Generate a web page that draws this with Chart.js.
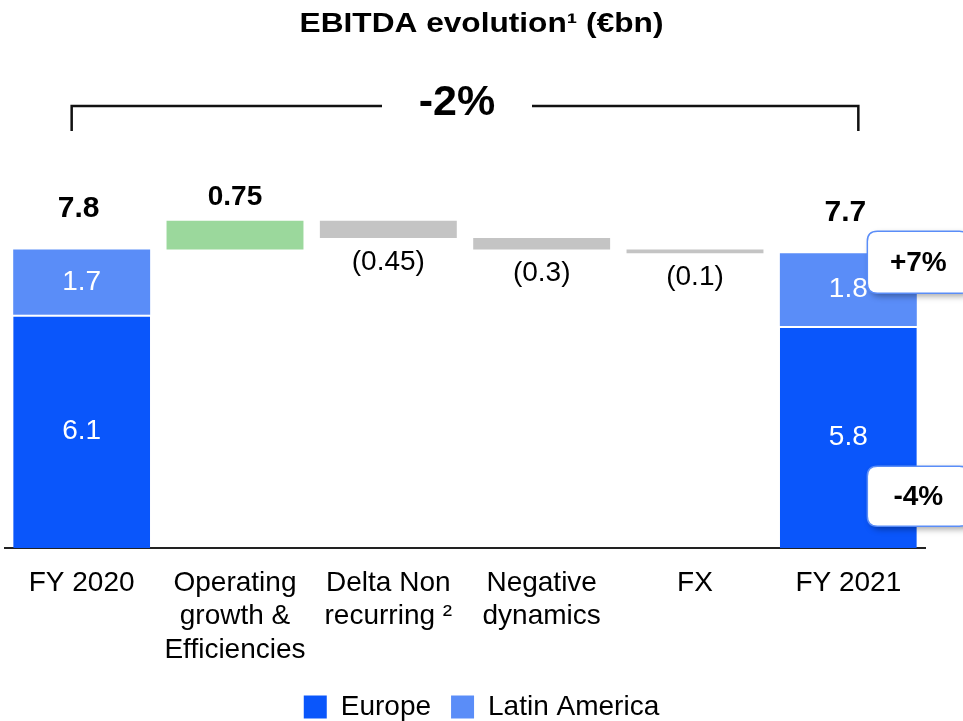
<!DOCTYPE html>
<html>
<head>
<meta charset="utf-8">
<script src="https://cdn.jsdelivr.net/npm/chart.js@4.4.0/dist/chart.umd.min.js"></script>
<style>
  html, body { margin: 0; padding: 0; background: #fff; }
</style>
</head>
<body>
<canvas id="chart" width="963" height="721"></canvas>
<script>
const FONT = "'Liberation Sans', Arial, sans-serif";

const titleText = 'EBITDA evolution¹ (€bn)';
const categories = [['FY 2020'], ['Operating', 'growth &', 'Efficiencies'], ['Delta Non', 'recurring ²'], ['Negative', 'dynamics'], ['FX'], ['FY 2021']];
const europe = [6.1, null, null, null, null, 5.8];
const latinAmerica = [1.7, null, null, null, null, 1.8];
const totals = [7.8, null, null, null, null, 7.7];
const bridgeDeltas = [0.75, -0.45, -0.3, -0.1];
const europeChange = '-4%';
const latamChange = '+7%';
const overallChange = '-2%';

const BLUE = '#0a56fb';
const LIGHT_BLUE = '#5a8df8';
const GREEN = '#9bd89c';
const GRAY = '#c4c4c4';

// waterfall steps between the two totals
let running = totals[0];
const bridge = [null];
const bridgeColors = [null];
bridgeDeltas.forEach(d => {
    const next = Math.round((running + d) * 100) / 100;
    bridge.push([running, next]);
    bridgeColors.push(d > 0 ? GREEN : GRAY);
    running = next;
});
bridge.push(null);
bridgeColors.push(null);

const latamBars = latinAmerica.map((v, i) => v == null ? null : [europe[i], totals[i]]);

function roundRect(ctx, x, y, w, h, r) {
    ctx.beginPath();
    ctx.moveTo(x + r, y);
    ctx.lineTo(x + w - r, y);
    ctx.quadraticCurveTo(x + w, y, x + w, y + r);
    ctx.lineTo(x + w, y + h - r);
    ctx.quadraticCurveTo(x + w, y + h, x + w - r, y + h);
    ctx.lineTo(x + r, y + h);
    ctx.quadraticCurveTo(x, y + h, x, y + h - r);
    ctx.lineTo(x, y + r);
    ctx.quadraticCurveTo(x, y, x + r, y);
    ctx.closePath();
}

function drawBadge(ctx, x, y, w, h, text) {
    ctx.save();
    roundRect(ctx, x, y, w, h, 10);
    ctx.shadowColor = 'rgba(0,0,0,0.35)';
    ctx.shadowBlur = 6;
    ctx.shadowOffsetX = 3;
    ctx.shadowOffsetY = 3;
    ctx.fillStyle = '#fff';
    ctx.fill();
    ctx.shadowColor = 'transparent';
    ctx.lineWidth = 1.5;
    ctx.strokeStyle = LIGHT_BLUE;
    ctx.stroke();
    ctx.fillStyle = '#000';
    ctx.font = 'bold 28px ' + FONT;
    ctx.textAlign = 'center';
    ctx.textBaseline = 'middle';
    ctx.fillText(text, x + w / 2, y + h / 2 + 1);
    ctx.restore();
}

const annotations = {
    id: 'annotations',
    afterDraw(chart) {
        const ctx = chart.ctx;
        const area = chart.chartArea;
        const eu = chart.getDatasetMeta(0).data;
        const la = chart.getDatasetMeta(1).data;
        const br = chart.getDatasetMeta(2).data;
        const last = categories.length - 1;

        ctx.save();
        ctx.fillStyle = '#000';
        ctx.textAlign = 'center';

        // title (the original is set a bit wide)
        ctx.save();
        ctx.translate(chart.width / 2, 32);
        ctx.scale(1.13, 1);
        ctx.font = 'bold 28px ' + FONT;
        ctx.textBaseline = 'alphabetic';
        ctx.fillText(titleText, 0, 0);
        ctx.restore();

        // bracket with overall change
        const bx1 = eu[0].x - 10;
        const bx2 = eu[last].x + 10;
        const by = area.top + 46;
        const gx = (bx1 + bx2) / 2 - 8;
        ctx.strokeStyle = '#111';
        ctx.lineWidth = 2.5;
        ctx.beginPath();
        ctx.moveTo(bx1, by + 25);
        ctx.lineTo(bx1, by);
        ctx.lineTo(gx - 75, by);
        ctx.moveTo(gx + 75, by);
        ctx.lineTo(bx2, by);
        ctx.lineTo(bx2, by + 25);
        ctx.stroke();
        ctx.font = 'bold 43px ' + FONT;
        ctx.textBaseline = 'alphabetic';
        ctx.fillText(overallChange, gx, area.top + 55);

        ctx.textBaseline = 'middle';
        // totals and regional splits
        totals.forEach((t, i) => {
            if (t == null) return;
            ctx.font = 'bold 30px ' + FONT;
            ctx.fillStyle = '#000';
            ctx.fillText(t.toFixed(1), la[i].x - 3, Math.min(la[i].y, la[i].base) - 41);
            ctx.font = '28px ' + FONT;
            ctx.fillStyle = '#fff';
            ctx.fillText(latinAmerica[i].toFixed(1), la[i].x, (la[i].y + la[i].base) / 2);
            ctx.fillText(europe[i].toFixed(1), eu[i].x, (eu[i].y + eu[i].base) / 2);
        });

        // waterfall step labels
        ctx.fillStyle = '#000';
        bridgeDeltas.forEach((d, k) => {
            const el = br[k + 1];
            const top = Math.min(el.y, el.base);
            const bottom = Math.max(el.y, el.base);
            if (d > 0) {
                ctx.font = 'bold 28px ' + FONT;
                ctx.fillText(String(d), el.x, top - 24);
            } else {
                ctx.font = '28px ' + FONT;
                ctx.fillText('(' + String(Math.abs(d)) + ')', el.x, bottom + 24);
            }
        });

        // regional change badges
        const bxl = eu[last].x + 19;
        drawBadge(ctx, bxl, Math.min(la[last].y, la[last].base) - 22, 102, 62, latamChange);
        drawBadge(ctx, bxl, eu[last].base - 22 - 60, 102, 60, europeChange);

        ctx.restore();
    }
};

new Chart(document.getElementById('chart'), {
    type: 'bar',
    data: {
        labels: categories,
        datasets: [
            {
                label: 'Europe',
                data: europe,
                backgroundColor: BLUE,
                borderColor: '#fff',
                borderWidth: { top: 2 },
                borderSkipped: 'start'
            },
            {
                label: 'Latin America',
                data: latamBars,
                backgroundColor: LIGHT_BLUE,
                borderWidth: 0
            },
            {
                label: 'bridge',
                data: bridge,
                backgroundColor: bridgeColors,
                borderWidth: 0
            }
        ]
    },
    options: {
        responsive: false,
        devicePixelRatio: 1,
        animation: false,
        datasets: {
            bar: {
                grouped: false,
                categoryPercentage: 1,
                barPercentage: 0.893
            }
        },
        layout: { padding: { top: 60, left: 0, right: 0, bottom: -10 } },
        plugins: {
            title: { display: false },
            tooltip: { enabled: false },
            legend: {
                position: 'bottom',
                labels: {
                    boxWidth: 23,
                    boxHeight: 23,
                    padding: 20,
                    color: '#000',
                    font: { size: 28, family: FONT },
                    generateLabels: chart => Chart.defaults.plugins.legend.labels.generateLabels(chart)
                        .filter(l => l.datasetIndex < 2)
                        .map(l => Object.assign(l, { lineWidth: 0 }))
                }
            }
        },
        scales: {
            x: {
                grid: { display: false, drawTicks: false },
                border: { display: true, color: '#222', width: 2 },
                ticks: {
                    color: '#000',
                    font: { size: 28, family: FONT, lineHeight: 1.2 },
                    padding: 18,
                    maxRotation: 0,
                    autoSkip: false
                },
                afterFit: scale => { scale.height -= 12; }
            },
            y: {
                position: 'left',
                min: 0,
                max: 12.75,
                grid: { display: false, drawTicks: false },
                border: { display: false },
                ticks: { display: false },
                afterFit: scale => { scale.width = 5; }
            },
            yRight: {
                position: 'right',
                min: 0,
                max: 12.75,
                grid: { display: false, drawTicks: false },
                border: { display: false },
                ticks: { display: false },
                afterFit: scale => { scale.width = 38; }
            }
        }
    },
    plugins: [annotations]
});
</script>
</body>
</html>
